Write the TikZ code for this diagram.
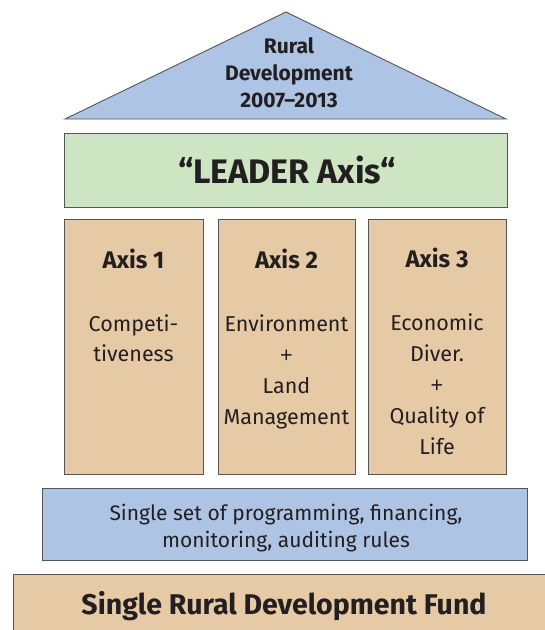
\documentclass[tikz,border=0pt]{standalone}
\usepackage{fontspec}
\setmainfont{Fira Sans}
\newfontfamily\plusfont{Liberation Sans}
\definecolor{roofblue}{HTML}{AEC4E5}
\definecolor{leadgreen}{HTML}{CDE5C3}
\definecolor{tan}{HTML}{E6C9A5}
\definecolor{ink}{HTML}{231F20}
\definecolor{edge}{HTML}{555555}
\newcommand{\lines}[1]{\begin{tabular}[t]{@{}c@{}}#1\end{tabular}}
\newcommand{\plus}{{\plusfont +}}
\tikzset{
  box/.style={draw=edge, line width=0.9pt, inner sep=0pt, outer sep=0pt, anchor=north west},
  txt/.style={text=ink, align=center, inner sep=0pt, anchor=base},
}
\begin{document}
\begin{tikzpicture}[x=1pt,y=-1pt]
\useasboundingbox (0,0) rectangle (545,630);
% roof
\coordinate (apex) at (286,12);
\coordinate (bl) at (65,119);
\coordinate (br) at (506,119);
\draw[edge, fill=roofblue, line width=0.9pt, line join=miter] (bl) -- (apex) -- (br) -- cycle;
\node[txt, font=\bfseries\fontsize{21}{27}\selectfont] (roof) at (289,53) {\lines{Rural\\Development\\2007–2013}};
% leader
\node[box, fill=leadgreen, minimum width=443pt, minimum height=74pt] (leader) at (64,133) {};
\node[txt, font=\bfseries\fontsize{34}{40}\selectfont] (leadertxt) at (287,183) {“LEADER Axis“};
% axes
\node[box, fill=tan, minimum width=139pt, minimum height=255pt] (ax1) at (64,219) {};
\node[box, fill=tan, minimum width=137pt, minimum height=255pt] (ax2) at (218,219) {};
\node[box, fill=tan, minimum width=138pt, minimum height=255pt] (ax3) at (368,219) {};
\node[txt, font=\bfseries\fontsize{24}{28}\selectfont] (a1) at ([yshift=-49pt]ax1.north) {Axis 1};
\node[txt, font=\bfseries\fontsize{24}{28}\selectfont] (a2) at ([yshift=-49pt]ax2.north) {Axis 2};
\node[txt, font=\bfseries\fontsize{24}{28}\selectfont] (a3) at ([yshift=-48pt]ax3.north) {Axis 3};
\node[txt, font=\fontsize{21.5}{30.5}\selectfont] (d1) at ([yshift=-112pt]ax1.north) {\lines{Competi-\\tiveness}};
\node[txt, font=\fontsize{21.5}{31}\selectfont] (d2) at ([yshift=-112pt]ax2.north) {\lines{Environment\\\plus\\Land\\Management}};
\node[txt, font=\fontsize{21.5}{31.2}\selectfont] (d3) at ([yshift=-111pt]ax3.north) {\lines{Economic\\Diver.\\\plus\\Quality of\\Life}};
% rules
\node[box, fill=roofblue, minimum width=485pt, minimum height=72pt] (rules) at (42,488) {};
\node[txt, font=\fontsize{21}{27}\selectfont] (rulestxt) at (286,520) {\lines{Single set of programming, financing,\\monitoring, auditing rules}};
% fund
\node[box, fill=tan, minimum width=560pt, minimum height=80pt] (fund) at (13,574) {};
\node[txt, font=\bfseries\fontsize{28.5}{32}\selectfont] (fundtxt) at (284,614) {Single Rural Development Fund};
\end{tikzpicture}
\end{document}
